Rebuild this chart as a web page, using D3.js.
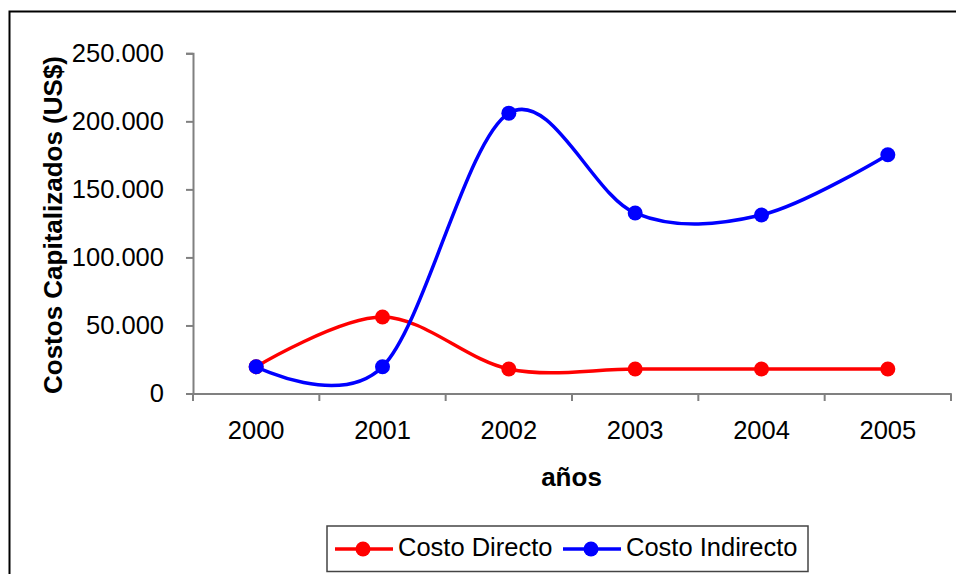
<!DOCTYPE html>
<html><head><meta charset="utf-8">
<script src="https://cdn.jsdelivr.net/npm/d3@7"></script>
<style>html,body{margin:0;padding:0;background:#fff;overflow:hidden}</style>
</head><body>
<svg id="c" width="956" height="574"></svg>
<script>
const years = ["2000","2001","2002","2003","2004","2005"];
const costoDirecto = [19700, 56200, 18000, 18000, 18000, 18000];
const costoIndirecto = [19700, 19700, 206000, 132600, 131200, 175500];
const yTicks = [0, 50000, 100000, 150000, 200000, 250000];
const seriesNames = ["Costo Directo", "Costo Indirecto"];
const seriesColors = ["#ff0000", "#0000ff"];

const svg = d3.select("#c");
const font = "Liberation Sans, Arial, sans-serif";

svg.append("rect").attr("x", 9.5).attr("y", 11.5).attr("width", 1000).attr("height", 1000)
  .attr("fill", "none").attr("stroke", "#000").attr("stroke-width", 2);

const x = d3.scaleBand().domain(years).range([193, 951]);
const y = d3.scaleLinear().domain([0, 250000]).range([393.5, 53.3]);

const fmt = v => v === 0 ? "0" : d3.format(",")(v).replace(/,/g, ".");

// y axis
const ya = svg.append("g").attr("transform", "translate(193,0)")
  .call(d3.axisLeft(y).tickValues(yTicks).tickFormat(fmt).tickSizeOuter(0).tickSize(7).tickPadding(22));
ya.select(".domain").attr("stroke", "#808080").attr("stroke-width", 2);
ya.selectAll(".tick line").attr("stroke", "#808080").attr("stroke-width", 2);
ya.selectAll("text").attr("font-family", font).attr("font-size", 25.5).attr("fill", "#000")
  .attr("dy", null).attr("y", 8.4);

// x axis
const xa = svg.append("g").attr("transform", "translate(0,393.5)")
  .call(d3.axisBottom(x).tickSize(0).tickPadding(0));
xa.select(".domain").attr("stroke", "#808080").attr("stroke-width", 2);
xa.selectAll("text").attr("font-family", font).attr("font-size", 25.5).attr("fill", "#000")
  .attr("dy", null).attr("y", 45.5);
// boundary ticks between categories
const bounds = years.map(d => x(d)).concat([x.range()[1]]);
svg.append("g").selectAll("line").data(bounds).join("line")
  .attr("x1", d => d).attr("x2", d => d).attr("y1", 393.5).attr("y2", 401)
  .attr("stroke", "#808080").attr("stroke-width", 2);

// titles
svg.append("text").attr("transform", "translate(62,225) rotate(-90)")
  .attr("text-anchor", "middle")
  .attr("font-family", font).attr("font-size", 26).attr("font-weight", "bold")
  .text("Costos Capitalizados (US$)");
svg.append("text").attr("x", 571.5).attr("y", 485.5).attr("text-anchor", "middle")
  .attr("font-family", font).attr("font-size", 26).attr("font-weight", "bold")
  .text("años");

// lines
const cx = d => x(d) + x.bandwidth() / 2;
const line = d3.line().x((d, i) => cx(years[i])).y(d => y(d)).curve(d3.curveCardinal.tension(0));
[costoDirecto, costoIndirecto].forEach((s, k) => {
  const g = svg.append("g");
  g.append("path").attr("d", line(s)).attr("fill", "none")
    .attr("stroke", seriesColors[k]).attr("stroke-width", 3.5);
  g.selectAll("circle").data(s).join("circle")
    .attr("cx", (d, i) => cx(years[i])).attr("cy", d => y(d)).attr("r", 7.5)
    .attr("fill", seriesColors[k]);
});

// legend
const lg = svg.append("g");
lg.append("rect").attr("x", 327).attr("y", 526).attr("width", 481).attr("height", 45.5)
  .attr("fill", "#fff").attr("stroke", "#444").attr("stroke-width", 1.5);
const lx = [335, 563];
seriesNames.forEach((n, k) => {
  lg.append("line").attr("x1", lx[k]).attr("x2", lx[k] + 58).attr("y1", 549).attr("y2", 549)
    .attr("stroke", seriesColors[k]).attr("stroke-width", 3.5);
  lg.append("circle").attr("cx", lx[k] + 28).attr("cy", 549).attr("r", 7.5).attr("fill", seriesColors[k]);
  lg.append("text").attr("x", lx[k] + 63).attr("y", 555.5)
    .attr("font-family", font).attr("font-size", 25.5).text(n);
});
</script>
</body></html>
